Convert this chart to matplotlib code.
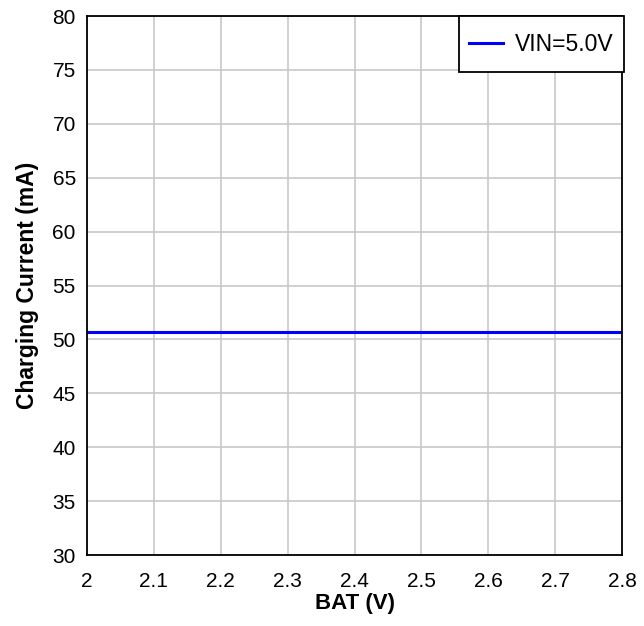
import numpy as np
import matplotlib.pyplot as plt
from matplotlib.legend_handler import HandlerLine2D

plt.rcParams['font.family'] = ['Liberation Sans', 'DejaVu Sans']

# data
bat_v = [2.0, 2.1, 2.2, 2.3, 2.4, 2.5, 2.6, 2.7, 2.8]
charge_ma = [50.7, 50.7, 50.7, 50.7, 50.7, 50.7, 50.7, 50.7, 50.7]
x_ticks = [2, 2.1, 2.2, 2.3, 2.4, 2.5, 2.6, 2.7, 2.8]
x_tick_labels = ['2', '2.1', '2.2', '2.3', '2.4', '2.5', '2.6', '2.7', '2.8']
y_ticks = list(range(30, 81, 5))


class LoweredLine(HandlerLine2D):
    # legend line sits a bit high with the tall handle box, push it down
    def create_artists(self, legend, orig_handle, xdescent, ydescent,
                       width, height, fontsize, trans):
        artists = super().create_artists(legend, orig_handle, xdescent, ydescent,
                                         width, height, fontsize, trans)
        for a in artists:
            a.set_ydata(np.asarray(a.get_ydata()) - 0.18 * fontsize)
        return artists


def main():
    fig = plt.figure(figsize=(6.44, 6.26), dpi=100)
    ax = fig.add_axes([0.135, 0.1134, 0.831, 0.861])
    line, = ax.plot(bat_v, charge_ma, color='#0000ff', lw=2.2, label='VIN=5.0V')
    ax.set_xlim(2, 2.8)
    ax.set_ylim(30, 80)
    ax.set_xticks(x_ticks)
    ax.set_xticklabels(x_tick_labels)
    ax.set_yticks(y_ticks)
    ax.grid(True, color='#c8c8c8', lw=1.2)
    ax.set_axisbelow(True)
    ax.tick_params(length=0, labelsize=15)
    ax.tick_params(axis='y', pad=8)
    ax.tick_params(axis='x', pad=12)
    for s in ax.spines.values():
        s.set_linewidth(1.3)
    ax.set_xlabel('BAT (V)', fontsize=16, fontweight='bold', labelpad=2)
    ax.set_ylabel('Charging Current (mA)', fontsize=16.5, fontweight='bold', labelpad=10)
    leg = ax.legend(loc='upper right', fancybox=False, framealpha=1,
                    edgecolor='black', fontsize=16.5, borderaxespad=0,
                    handlelength=1.5, handletextpad=0.5, borderpad=0.45,
                    handleheight=2.0, bbox_to_anchor=(1.003, 1.0),
                    handler_map={line: LoweredLine()})
    leg.get_frame().set_linewidth(1.3)
    fig.savefig('out.png', dpi=100)
    plt.close()


if __name__ == '__main__':
    main()
